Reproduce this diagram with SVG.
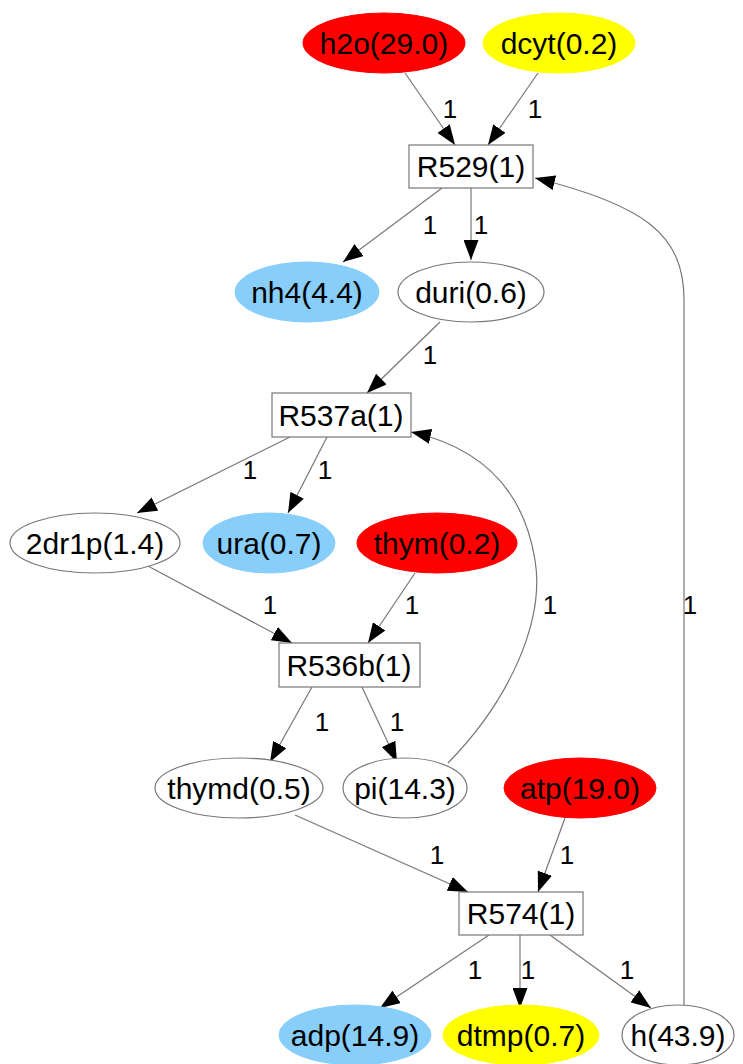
<svg xmlns="http://www.w3.org/2000/svg" width="743" height="1064" viewBox="0 0 743 1064">
<style>
.nt{font-family:"Liberation Sans",Arial,sans-serif;font-size:30px;text-anchor:middle;fill:#000}
.lb{font-family:"Liberation Sans",Arial,sans-serif;font-size:26px;text-anchor:middle;fill:#000}
.e{fill:none;stroke:#777;stroke-width:1.2}
.w{fill:#fff;stroke:#777;stroke-width:1.2}
.red{fill:#f00;stroke:#f00}
.yel{fill:#ff0;stroke:#ff0}
.blu{fill:#87cefa;stroke:#87cefa}
.box{fill:#fff;stroke:#777;stroke-width:1.2}
</style>
<defs>
<marker id="ah" markerUnits="userSpaceOnUse" markerWidth="20" markerHeight="15" refX="20" refY="7.5" orient="auto">
<path d="M0,0 L20,7.5 L0,15 z" fill="#000"/>
</marker>
</defs>
<rect width="743" height="1064" fill="#fff"/>
<g id="edges">
<path class="e" d="M405,73 L455,145" marker-end="url(#ah)"/>
<path class="e" d="M538,73 L488,145" marker-end="url(#ah)"/>
<path class="e" d="M442,188 L343,262" marker-end="url(#ah)"/>
<path class="e" d="M471,188 L471,260" marker-end="url(#ah)"/>
<path class="e" d="M684,1006 L684,300 C684,235 645,205 535,178" marker-end="url(#ah)"/>
<path class="e" d="M440,322 L367,393" marker-end="url(#ah)"/>
<path class="e" d="M290,437 L137,513" marker-end="url(#ah)"/>
<path class="e" d="M327,437 L288,513" marker-end="url(#ah)"/>
<path class="e" d="M448,763 C510,700 545,620 535,560 C522,480 470,445 411,432" marker-end="url(#ah)"/>
<path class="e" d="M148,566 L292,643" marker-end="url(#ah)"/>
<path class="e" d="M415,573 L368,643" marker-end="url(#ah)"/>
<path class="e" d="M312,687 L270,762" marker-end="url(#ah)"/>
<path class="e" d="M362,687 L397,762" marker-end="url(#ah)"/>
<path class="e" d="M295,815 L468,892" marker-end="url(#ah)"/>
<path class="e" d="M565,818 L538,892" marker-end="url(#ah)"/>
<path class="e" d="M489,935 L380,1008" marker-end="url(#ah)"/>
<path class="e" d="M520,935 L520,1008" marker-end="url(#ah)"/>
<path class="e" d="M550,935 L651,1008" marker-end="url(#ah)"/>
<text class="lb" x="450" y="118">1</text>
<text class="lb" x="535" y="118">1</text>
<text class="lb" x="430" y="234">1</text>
<text class="lb" x="481" y="234">1</text>
<text class="lb" x="690" y="614">1</text>
<text class="lb" x="430" y="364">1</text>
<text class="lb" x="250" y="479">1</text>
<text class="lb" x="325" y="479">1</text>
<text class="lb" x="550" y="614">1</text>
<text class="lb" x="270" y="614">1</text>
<text class="lb" x="412" y="614">1</text>
<text class="lb" x="322" y="731">1</text>
<text class="lb" x="397" y="731">1</text>
<text class="lb" x="437" y="864">1</text>
<text class="lb" x="567" y="864">1</text>
<text class="lb" x="475" y="979">1</text>
<text class="lb" x="528" y="979">1</text>
<text class="lb" x="627" y="979">1</text>
</g>
<g id="h2o"><ellipse class="red" cx="384" cy="43" rx="81" ry="30"/><text class="nt" x="384" y="54">h2o(29.0)</text></g>
<g id="dcyt"><ellipse class="yel" cx="559" cy="43" rx="76" ry="30"/><text class="nt" x="559" y="54">dcyt(0.2)</text></g>
<g id="R529"><rect class="box" x="409" y="145" width="124" height="43"/><text class="nt" x="471" y="177">R529(1)</text></g>
<g id="nh4"><ellipse class="blu" cx="307" cy="292" rx="72" ry="30"/><text class="nt" x="307" y="303">nh4(4.4)</text></g>
<g id="duri"><ellipse class="w" cx="471" cy="292" rx="73" ry="30"/><text class="nt" x="471" y="303">duri(0.6)</text></g>
<g id="R537a"><rect class="box" x="272" y="393" width="139" height="44"/><text class="nt" x="341" y="426">R537a(1)</text></g>
<g id="2dr1p"><ellipse class="w" cx="95" cy="543" rx="85" ry="30"/><text class="nt" x="95" y="554">2dr1p(1.4)</text></g>
<g id="ura"><ellipse class="blu" cx="269" cy="543" rx="66" ry="30"/><text class="nt" x="269" y="554">ura(0.7)</text></g>
<g id="thym"><ellipse class="red" cx="437" cy="543" rx="80" ry="30"/><text class="nt" x="437" y="554">thym(0.2)</text></g>
<g id="R536b"><rect class="box" x="279" y="643" width="141" height="44"/><text class="nt" x="349" y="676">R536b(1)</text></g>
<g id="thymd"><ellipse class="w" cx="239" cy="788" rx="84" ry="30"/><text class="nt" x="239" y="799">thymd(0.5)</text></g>
<g id="pi"><ellipse class="w" cx="405" cy="788" rx="62" ry="30"/><text class="nt" x="405" y="799">pi(14.3)</text></g>
<g id="atp"><ellipse class="red" cx="580" cy="788" rx="76" ry="30"/><text class="nt" x="580" y="799">atp(19.0)</text></g>
<g id="R574"><rect class="box" x="459" y="892" width="124" height="43"/><text class="nt" x="521" y="924">R574(1)</text></g>
<g id="adp"><ellipse class="blu" cx="355" cy="1035" rx="76" ry="30"/><text class="nt" x="355" y="1046">adp(14.9)</text></g>
<g id="dtmp"><ellipse class="yel" cx="521" cy="1035" rx="78" ry="30"/><text class="nt" x="521" y="1046">dtmp(0.7)</text></g>
<g id="h"><ellipse class="w" cx="678" cy="1035" rx="56" ry="30"/><text class="nt" x="678" y="1046">h(43.9)</text></g>
</svg>
